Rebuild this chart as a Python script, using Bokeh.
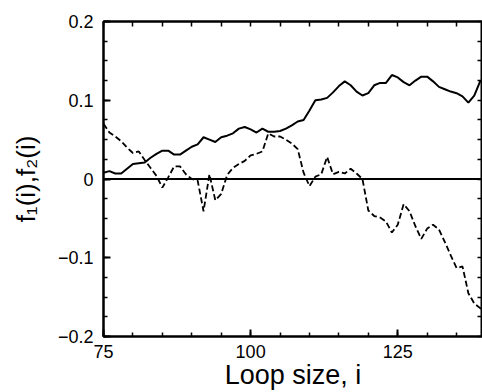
from bokeh.plotting import figure
from bokeh.models import LinearAxis, FixedTicker, Span, Range1d
from bokeh.embed import file_html
from bokeh.resources import INLINE

loop_size = list(range(75, 141))
f1 = [0.008, 0.010, 0.007, 0.007, 0.013, 0.019, 0.020, 0.021, 0.027, 0.032,
      0.036, 0.036, 0.031, 0.031, 0.036, 0.041, 0.044, 0.053, 0.050, 0.047,
      0.053, 0.055, 0.058, 0.064, 0.066, 0.063, 0.059, 0.064, 0.060, 0.060,
      0.061, 0.064, 0.068, 0.073, 0.075, 0.087, 0.100, 0.101, 0.103, 0.110,
      0.118, 0.124, 0.119, 0.111, 0.106, 0.109, 0.119, 0.122, 0.122, 0.132,
      0.129, 0.123, 0.119, 0.125, 0.130, 0.130, 0.124, 0.117, 0.114, 0.111,
      0.109, 0.105, 0.097, 0.106, 0.124, 0.126]
f2 = [0.070, 0.059, 0.054, 0.048, 0.040, 0.033, 0.035, 0.024, 0.014, 0.004,
      -0.011, 0.002, 0.016, 0.016, 0.006, 0.000, -0.002, -0.041, 0.006, -0.027,
      -0.019, 0.005, 0.014, 0.019, 0.023, 0.030, 0.032, 0.035, 0.058, 0.054,
      0.054, 0.050, 0.045, 0.038, 0.008, -0.009, 0.003, 0.006, 0.028, 0.006,
      0.009, 0.007, 0.013, 0.007, 0.000, -0.040, -0.047, -0.049, -0.054, -0.068,
      -0.058, -0.032, -0.041, -0.060, -0.076, -0.063, -0.058, -0.064, -0.080, -0.097,
      -0.113, -0.111, -0.145, -0.158, -0.164, -0.168]

x_major = [75, 100, 125]
x_minor = list(range(75, 141, 5))
y_major = [-0.2, -0.1, 0.0, 0.1, 0.2]
y_minor = [i * 0.025 for i in range(-8, 9)]
y_labels = {-0.2: "\u22120.2", -0.1: "\u22120.1", 0.0: "0", 0.1: "0.1", 0.2: "0.2"}

FONT = "Liberation Sans"

p = figure(width=482, height=392, x_range=Range1d(75, 139.4), y_range=Range1d(-0.2, 0.2),
           output_backend="svg", toolbar_location=None,
           min_border_left=103, min_border_right=0, min_border_top=21, min_border_bottom=0)
p.grid.visible = False
p.outline_line_color = "black"
p.outline_line_width = 2
p.background_fill_color = "white"
p.border_fill_color = "white"

def style(ax):
    ax.major_tick_in = 7
    ax.major_tick_out = 0
    ax.minor_tick_in = 4
    ax.minor_tick_out = 0
    ax.axis_line_width = 2
    ax.axis_line_color = "black"
    ax.major_tick_line_width = 2
    ax.minor_tick_line_width = 1.5
    ax.major_tick_line_color = "black"
    ax.minor_tick_line_color = "black"
    ax.major_label_text_font = FONT
    ax.major_label_text_color = "black"
    ax.major_label_text_font_size = "18px"
    ax.axis_label_text_font = FONT
    ax.axis_label_text_color = "black"
    ax.axis_label_text_font_style = "normal"

xt = FixedTicker(ticks=x_major, minor_ticks=x_minor)
yt = FixedTicker(ticks=y_major, minor_ticks=y_minor)

xa = p.xaxis[0]
xa.ticker = xt
style(xa)
xa.major_label_standoff = 8
xa.axis_label = "Loop size, i"
xa.axis_label_text_font_size = "27px"
xa.axis_label_standoff = -1

ya = p.yaxis[0]
ya.ticker = yt
style(ya)
ya.major_label_overrides = y_labels
ya.major_label_standoff = 10
ya.axis_label = "f\u2081(i),f\u2082(i)"
ya.axis_label_text_font_size = "26px"
ya.axis_label_standoff = 14

# frame ticks on top and right (no labels)
top = LinearAxis(ticker=FixedTicker(ticks=[], minor_ticks=x_minor))
style(top)
top.minor_tick_in = 5
p.add_layout(top, "above")
right = LinearAxis(ticker=FixedTicker(ticks=[], minor_ticks=y_minor))
style(right)
right.minor_tick_in = 5
p.add_layout(right, "right")

p.add_layout(Span(location=0, dimension="width", line_color="black", line_width=2))

p.line(loop_size, f1, line_color="black", line_width=2)
p.line(loop_size, f2, line_color="black", line_width=1.8, line_dash="6 3")

open("out.html", "w").write(file_html(p, INLINE))
